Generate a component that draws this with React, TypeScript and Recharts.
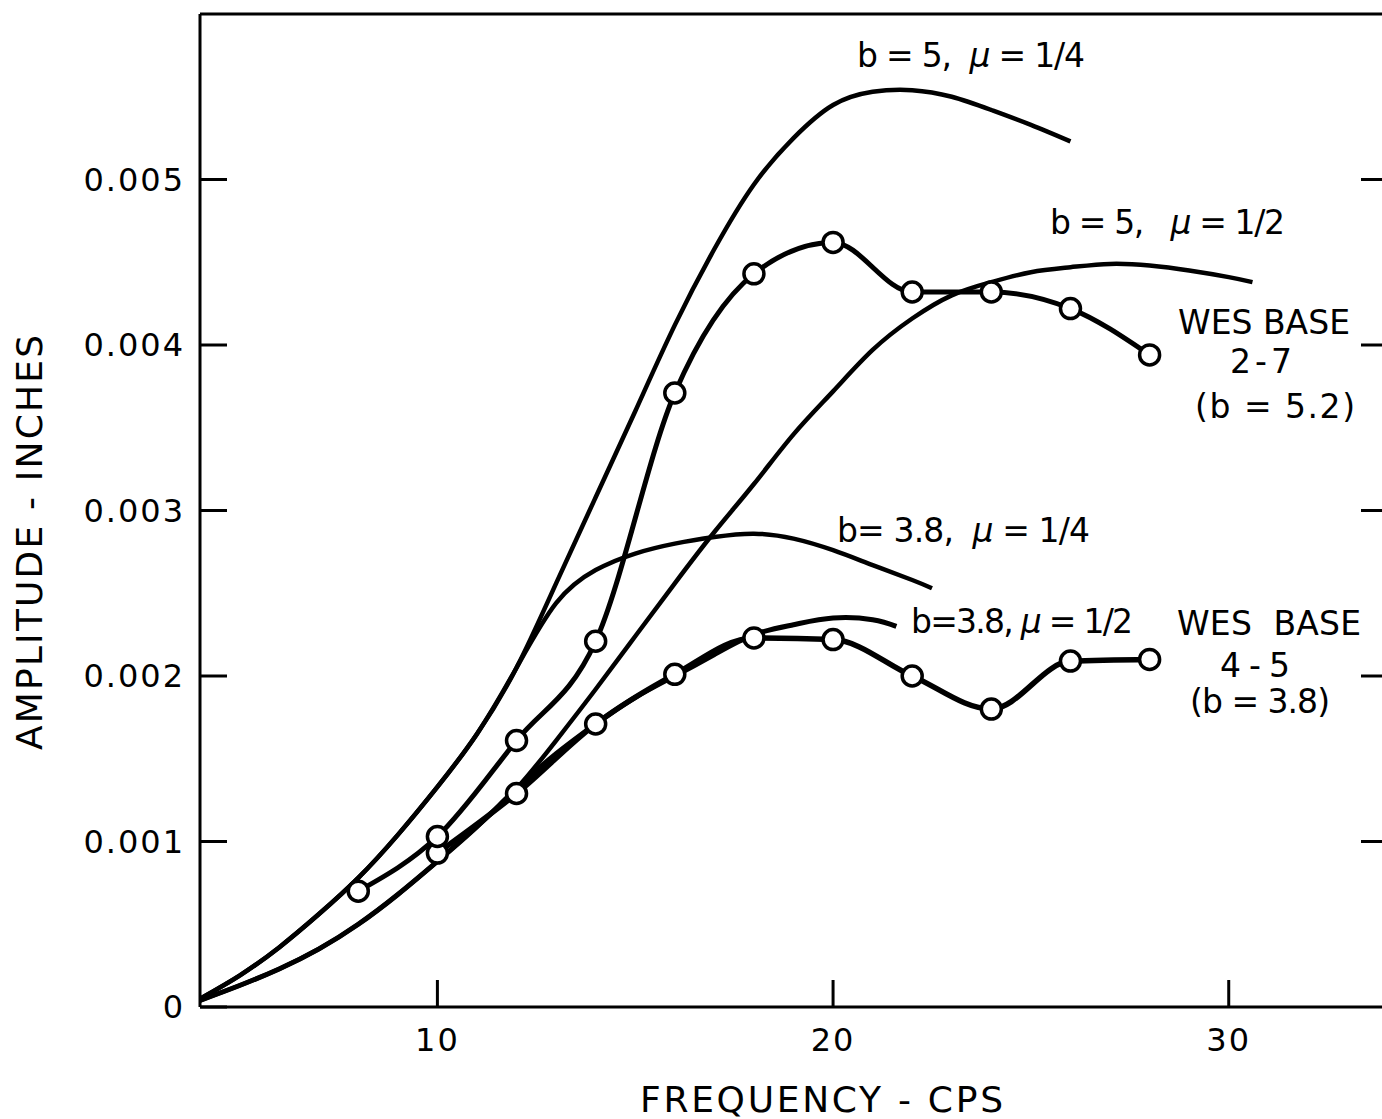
import { ComposedChart, Line, Scatter, XAxis, YAxis } from 'recharts';

const FONT = '"DejaVu Sans", "Liberation Sans", sans-serif';

// theoretical curves
const freqA = [4, 5, 6, 7, 8, 9, 10, 11, 12, 13, 14, 15, 16, 17, 18, 19, 20, 21, 22, 23, 24, 25, 26];
const ampA = [0.00005, 0.00019, 0.00036, 0.00056, 0.00078, 0.00104, 0.00133, 0.00165, 0.00205, 0.00256, 0.00308, 0.0036, 0.00412, 0.00458, 0.00497, 0.00525, 0.00545, 0.00553, 0.00554, 0.0055, 0.00542, 0.00533, 0.00523];

const freqB = [4, 5, 6, 7, 8, 9, 10, 11, 12, 13, 14, 15, 16, 17, 18, 19, 20, 21, 22, 23, 24, 25, 26, 27, 28, 29, 30, 30.6];
const ampB = [0.00004, 0.00013, 0.00023, 0.00035, 0.0005, 0.00068, 0.00088, 0.00109, 0.00132, 0.00161, 0.00192, 0.00224, 0.00256, 0.00287, 0.00316, 0.00346, 0.00372, 0.00397, 0.00416, 0.0043, 0.00438, 0.00444, 0.00447, 0.00449, 0.00448, 0.00445, 0.00441, 0.00438];

const freqC = [4, 5, 6, 7, 8, 9, 10, 11, 12, 13, 14, 15, 16, 17, 18, 19, 20, 21, 22, 22.5];
const ampC = [0.00005, 0.00019, 0.00036, 0.00056, 0.00078, 0.00104, 0.00133, 0.00165, 0.00205, 0.00244, 0.00264, 0.00274, 0.0028, 0.00284, 0.00286, 0.00283, 0.00276, 0.00267, 0.00258, 0.00253];

const freqD = [4, 5, 6, 7, 8, 9, 10, 11, 12, 13, 14, 15, 16, 17, 18, 19, 20, 21, 21.6];
const ampD = [0.00004, 0.00013, 0.00023, 0.00035, 0.0005, 0.00068, 0.00088, 0.00109, 0.00132, 0.00153, 0.00171, 0.00187, 0.002, 0.00213, 0.00225, 0.00231, 0.00235, 0.00234, 0.0023];

// test data
const freqWes27 = [8, 10, 12, 14, 16, 18, 20, 22, 24, 26, 28];
const ampWes27 = [0.0007, 0.00103, 0.00161, 0.00221, 0.00371, 0.00443, 0.00462, 0.00432, 0.00432, 0.00422, 0.00394];

const freqWes45 = [10, 12, 14, 16, 18, 20, 22, 24, 26, 28];
const ampWes45 = [0.00093, 0.00129, 0.00171, 0.00201, 0.00223, 0.00222, 0.002, 0.0018, 0.00209, 0.0021];

const xTicks = [10, 20, 30];
const yTicks = [0, 0.001, 0.002, 0.003, 0.004, 0.005];

const toPoints = (xs: number[], ys: number[]) => xs.map((x, i) => ({ x, y: ys[i] }));

const seriesA = toPoints(freqA, ampA);
const seriesB = toPoints(freqB, ampB);
const seriesC = toPoints(freqC, ampC);
const seriesD = toPoints(freqD, ampD);
const wes27 = toPoints(freqWes27, ampWes27);
const wes45 = toPoints(freqWes45, ampWes45);

const OpenCircle = (props: any) => (
	<circle cx={props.cx} cy={props.cy} r={10} fill="#fff" stroke="#000" strokeWidth={3.5} />
);

const axisLine = { stroke: '#000', strokeWidth: 3 };
const tickLine = { stroke: '#000', strokeWidth: 3 };
const tickFont = { fill: '#000', fontSize: 32, fontFamily: FONT, letterSpacing: 2 };
const noLabel = () => '';

const Mu = () => <tspan fontStyle="italic">μ</tspan>;

export default function App() {
	return (
		<div
			style={{
				position: 'absolute',
				left: 0,
				top: 0,
				width: 1382,
				height: 1119,
				overflow: 'hidden',
				background: '#fff',
			}}>
			<ComposedChart width={1400} height={1119} margin={{ top: 13, right: 0, bottom: 0, left: 0 }}>
				<XAxis
					xAxisId="b"
					dataKey="x"
					type="number"
					domain={[4, 34]}
					ticks={xTicks}
					interval={0}
					allowDataOverflow
					height={112}
					axisLine={axisLine}
					tickLine={tickLine}
					tickSize={-27}
					tickMargin={48}
					tick={tickFont}
				/>
				<XAxis
					xAxisId="t"
					orientation="top"
					type="number"
					domain={[4, 34]}
					ticks={xTicks}
					interval={0}
					allowDataOverflow
					height={1}
					axisLine={axisLine}
					tickLine={tickLine}
					tickSize={-32}
					tickFormatter={noLabel}
				/>
				<YAxis
					yAxisId="l"
					dataKey="y"
					type="number"
					domain={[0, 0.006]}
					ticks={yTicks}
					interval={0}
					allowDataOverflow
					width={200}
					axisLine={axisLine}
					tickLine={tickLine}
					tickSize={-27}
					tickMargin={42}
					tick={tickFont}
					tickFormatter={(v: number) => (v === 0 ? '0' : v.toFixed(3))}
				/>
				<YAxis
					yAxisId="r"
					orientation="right"
					type="number"
					domain={[0, 0.006]}
					ticks={yTicks.slice(1)}
					interval={0}
					allowDataOverflow
					width={13}
					axisLine={axisLine}
					tickLine={tickLine}
					tickSize={-26}
					tickFormatter={noLabel}
				/>

				<Line xAxisId="b" yAxisId="l" data={seriesA} dataKey="y" type="natural" stroke="#000" strokeWidth={4.5} dot={false} isAnimationActive={false} />
				<Line xAxisId="b" yAxisId="l" data={seriesB} dataKey="y" type="natural" stroke="#000" strokeWidth={4.5} dot={false} isAnimationActive={false} />
				<Line xAxisId="b" yAxisId="l" data={seriesC} dataKey="y" type="natural" stroke="#000" strokeWidth={4.5} dot={false} isAnimationActive={false} />
				<Line xAxisId="b" yAxisId="l" data={seriesD} dataKey="y" type="natural" stroke="#000" strokeWidth={5} dot={false} isAnimationActive={false} />
				<Line xAxisId="b" yAxisId="l" data={wes45} dataKey="y" type="monotone" stroke="#000" strokeWidth={5.5} dot={false} isAnimationActive={false} />
				<Line xAxisId="b" yAxisId="l" data={wes27} dataKey="y" type="monotone" stroke="#000" strokeWidth={5} dot={false} isAnimationActive={false} />
				<Scatter xAxisId="b" yAxisId="l" data={wes45} dataKey="y" shape={OpenCircle} isAnimationActive={false} />
				<Scatter xAxisId="b" yAxisId="l" data={wes27} dataKey="y" shape={OpenCircle} isAnimationActive={false} />
			</ComposedChart>

			<svg
				width={1382}
				height={1119}
				style={{ position: 'absolute', left: 0, top: 0, pointerEvents: 'none' }}
				fontFamily={FONT}
				fill="#000">
				<g fontSize={33}>
					<text x={857} y={67} textLength={228} lengthAdjust="spacing">
						b = 5,{'\u00a0\u00a0'}<Mu /> = 1/4
					</text>
					<text x={1050} y={234} textLength={235} lengthAdjust="spacing">
						b = 5,{'\u00a0\u00a0\u00a0'}<Mu /> = 1/2
					</text>
					<text x={1178} y={334} textLength={172} lengthAdjust="spacing">WES BASE</text>
					<text x={1230} y={373} textLength={62} lengthAdjust="spacing">2 - 7</text>
					<text x={1195} y={418} textLength={160} lengthAdjust="spacing">(b = 5.2)</text>
					<text x={837} y={542} textLength={253} lengthAdjust="spacing">
						b= 3.8,{'\u00a0\u00a0'}<Mu /> = 1/4
					</text>
					<text x={911} y={633} textLength={222} lengthAdjust="spacing">
						b=3.8, <Mu /> = 1/2
					</text>
					<text x={1177} y={635} textLength={184} lengthAdjust="spacing">WES{'\u00a0\u00a0'}BASE</text>
					<text x={1220} y={677} textLength={70} lengthAdjust="spacing">4 - 5</text>
					<text x={1190} y={713} textLength={140} lengthAdjust="spacing">(b = 3.8)</text>
				</g>
				<text x={640} y={1112} fontSize={36} textLength={363} lengthAdjust="spacing">
					FREQUENCY - CPS
				</text>
				<text transform="translate(42,750) rotate(-90)" fontSize={36} textLength={415} lengthAdjust="spacing">
					AMPLITUDE - INCHES
				</text>
			</svg>
		</div>
	);
}
